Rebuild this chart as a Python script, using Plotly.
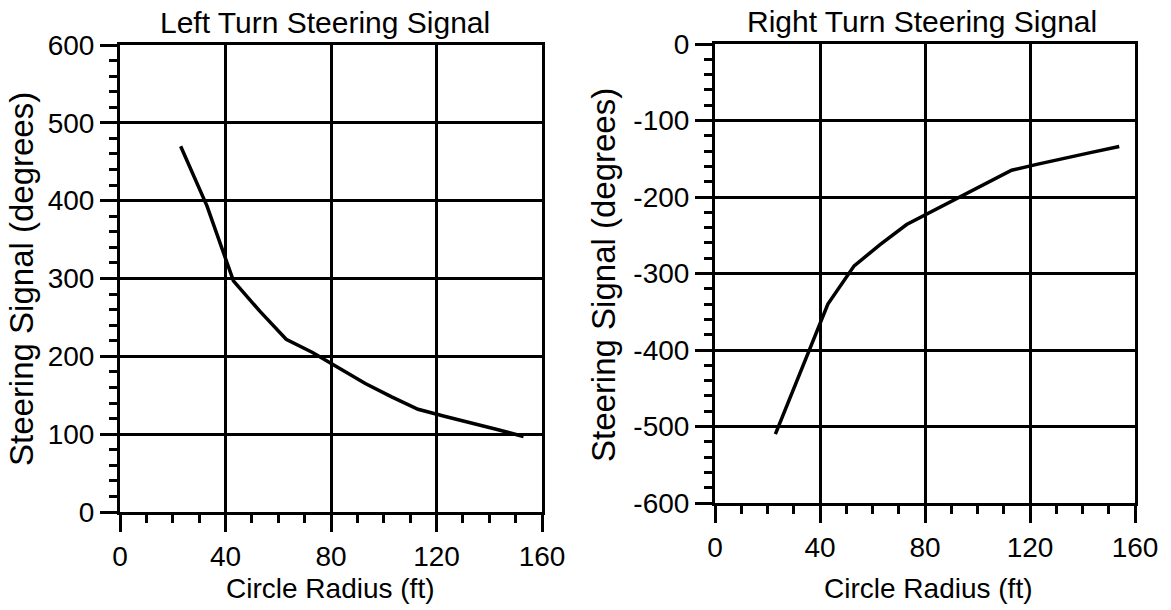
import plotly.graph_objects as go

# Left turn data (circle radius ft, steering signal deg)
left_radius = [23, 33, 43, 53, 63, 73, 83, 93, 103, 113, 123, 133, 143, 153]
left_signal = [470, 393, 297, 258, 222, 205, 185, 165, 148, 132, 123, 115, 106, 97]

# Right turn data
right_radius = [23, 43, 53, 63, 73, 83, 93, 103, 113, 123, 133, 143, 154]
right_signal = [-510, -340, -290, -262, -236, -218, -200, -182, -165, -157, -150, -142, -134]

x_ticks = [0, 40, 80, 120, 160]
left_y_ticks = [0, 100, 200, 300, 400, 500, 600]
right_y_ticks = [-600, -500, -400, -300, -200, -100, 0]
right_y_labels = ["-600", "-500", "-400", "-300", "-200", "-100", "0"]

titles = ["Left Turn Steering Signal", "Right Turn Steering Signal"]
x_title = "Circle Radius (ft)"
y_title = "Steering Signal (degrees)"

W, H = 1171, 610
FONT = "Liberation Sans, Arial, Helvetica, sans-serif"

fig = go.Figure()
fig.add_trace(go.Scatter(x=left_radius, y=left_signal, mode="lines",
                         line=dict(color="black", width=3.5), xaxis="x", yaxis="y",
                         showlegend=False))
fig.add_trace(go.Scatter(x=right_radius, y=right_signal, mode="lines",
                         line=dict(color="black", width=3.5), xaxis="x2", yaxis="y2",
                         showlegend=False))

def xax(domain, anchor):
    return dict(domain=domain, anchor=anchor, range=[0, 160], tickmode="array",
                tickvals=x_ticks, ticks="outside", ticklen=17, tickwidth=3, tickcolor="black",
                showline=True, linecolor="black", linewidth=3, mirror=True,
                showgrid=True, gridcolor="black", gridwidth=3, zeroline=False,
                automargin=False,
                minor=dict(dtick=10, tick0=0, ticks="outside", ticklen=8, tickwidth=3,
                           tickcolor="black", showgrid=False),
                tickfont=dict(size=28, color="black", family=FONT), fixedrange=True)

def yax(domain, anchor, rng, vals, labels):
    return dict(domain=domain, anchor=anchor, range=rng, tickmode="array",
                tickvals=vals, ticktext=labels, ticks="outside", ticklen=17, tickwidth=3,
                tickcolor="black",
                showline=True, linecolor="black", linewidth=3, mirror=True,
                showgrid=True, gridcolor="black", gridwidth=3, zeroline=False,
                automargin=False,
                minor=dict(dtick=20, tick0=0, ticks="outside", ticklen=8, tickwidth=3,
                           tickcolor="black", showgrid=False),
                tickfont=dict(size=28, color="black", family=FONT), fixedrange=True)

lx = [120 / W, 542 / W]
ly = [1 - 512 / H, 1 - 45 / H]
rx = [715 / W, 1135 / W]
ry = [1 - 503 / H, 1 - 44 / H]

fig.update_layout(
    width=W, height=H, margin=dict(l=0, r=0, t=0, b=0, autoexpand=False), autosize=False,
    paper_bgcolor="white", plot_bgcolor="white",
    font=dict(family=FONT, color="black", size=28),
    xaxis=xax(lx, "y"),
    yaxis=yax(ly, "x", [0, 600], left_y_ticks, [str(v) for v in left_y_ticks]),
    xaxis2=xax(rx, "y2"),
    yaxis2=yax(ry, "x2", [-600, 0], right_y_ticks, right_y_labels),
)

ann = []
ann.append(dict(text=titles[0], x=325 / W, y=1 - 23 / H, size=30))
ann.append(dict(text=titles[1], x=922 / W, y=1 - 22 / H, size=30))
ann.append(dict(text=x_title, x=330 / W, y=1 - 588 / H, size=28))
ann.append(dict(text=x_title, x=928 / W, y=1 - 588 / H, size=28))
ann.append(dict(text=y_title, x=21 / W, y=1 - 279 / H, textangle=-90, size=33))
ann.append(dict(text=y_title, x=604 / W, y=1 - 275 / H, textangle=-90, size=33))
for a in ann:
    s = a.pop("size")
    a.update(xref="paper", yref="paper", showarrow=False, xanchor="center", yanchor="middle",
             font=dict(size=s, color="black", family=FONT))
fig.update_layout(annotations=ann)

fig.write_html("out.html",
               post_script="document.body.style.margin='0';document.body.style.overflow='hidden';")
